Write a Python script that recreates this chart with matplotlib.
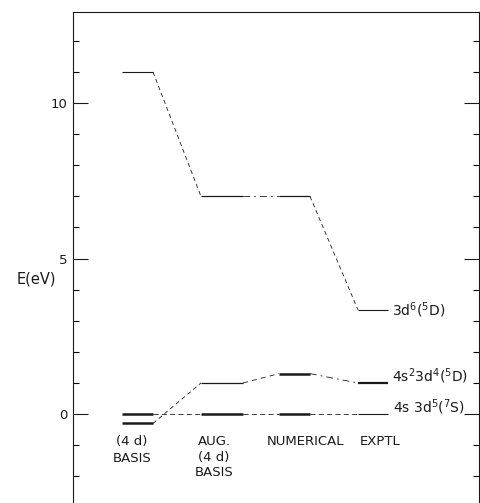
import matplotlib
matplotlib.use("Agg")
import matplotlib.pyplot as plt
from matplotlib.ticker import MultipleLocator

# energy levels (eV) for each column: (4d) basis, aug. (4d) basis, numerical, exptl
columns = ["(4 d)\nBASIS", "AUG.\n(4 d)\nBASIS", "NUMERICAL", "EXPTL"]
e_3d6 = [11.0, 7.0, 7.0, 3.35]
e_4s2_3d4 = [-0.3, 1.0, 1.3, 1.0]
e_4s_3d5 = [0.0, 0.0, 0.0, 0.0]
state_labels = ["3d$^6$($^5$D)", "4s$^2$3d$^4$($^5$D)", "4s 3d$^5$($^7$S)"]

# layout (x in pixel-like units across the axes)
bar_x0 = [49, 128, 206, 285]
bar_x1 = [80, 170, 237, 315]
ink = "#1a1a1a"

plt.rcParams["font.family"] = ["DejaVu Sans"]
plt.rcParams["mathtext.fontset"] = "dejavusans"

fig = plt.figure(figsize=(4.8, 5.03), dpi=100)
ax = fig.add_axes([73 / 480, 0, 406 / 480, 491 / 503])
ax.set_xlim(0, 406)
ax.set_ylim(-2.86, 12.93)


def draw_series(energies, widths, dash_styles):
    for i, e in enumerate(energies):
        ax.hlines(e, bar_x0[i], bar_x1[i], color=ink, lw=widths[i])
        if i > 0:
            ax.plot([bar_x1[i - 1], bar_x0[i]], [energies[i - 1], e],
                    color=ink, lw=0.6, ls=dash_styles[i - 1])


draw_series(e_3d6, [0.8, 0.9, 0.9, 0.8],
            [(0, (5, 4)), (0, (8, 5, 2, 5)), (0, (5, 4))])
draw_series(e_4s2_3d4, [1.8, 0.9, 1.8, 1.6],
            [(0, (5, 4)), (0, (6, 5)), (0, (8, 5, 2, 5))])
draw_series(e_4s_3d5, [1.8, 1.8, 1.8, 0.8],
            [(0, (6, 4)), (0, (6, 4)), (0, (6, 4))])

# state labels to the right of the experimental column
ax.text(319, e_3d6[3], state_labels[0], fontsize=10, color=ink, va="center")
ax.text(319, 1.22, state_labels[1], fontsize=10, color=ink, va="center")
ax.text(320, 0.22, state_labels[2], fontsize=10, color=ink, va="center")

# column captions
cap = dict(fontsize=9.5, color=ink, ha="center", va="top")
ax.text(59, -0.68, columns[0], linespacing=1.35, **cap)
ax.text(141, -0.68, columns[1], linespacing=1.25, **cap)
ax.text(233, -0.68, columns[2], **cap)
ax.text(307, -0.68, columns[3], **cap)

ax.text(-17, 4.35, "E(eV)", fontsize=10.5, color=ink, ha="right", va="center")

# axes styling
ax.set_yticks([0, 5, 10])
ax.yaxis.set_minor_locator(MultipleLocator(1))
ax.set_xticks([])
ax.tick_params(axis="y", which="major", direction="in", length=11, width=0.8,
               left=True, right=True, labelsize=9.5, colors=ink, pad=4)
ax.tick_params(axis="y", which="minor", direction="in", length=4, width=0.8,
               left=True, right=True)
ax.spines["bottom"].set_visible(False)
for side in ["left", "right", "top"]:
    ax.spines[side].set_linewidth(0.8)
    ax.spines[side].set_color(ink)

fig.savefig("out.png", dpi=100)
